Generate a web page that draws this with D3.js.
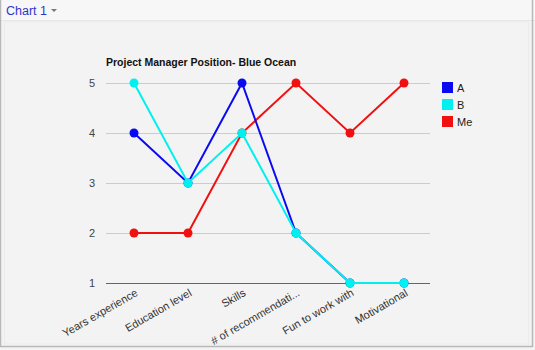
<!DOCTYPE html>
<html><head><meta charset="utf-8">
<script src="https://cdn.jsdelivr.net/npm/d3@7"></script>
<style>
html,body{margin:0;padding:0;background:#f2f2f2;}
svg{display:block;font-family:"Liberation Sans",Arial,sans-serif;}
</style></head>
<body>
<svg id="c" width="535" height="350"></svg>
<script>
const categories = ["Years experience","Education level","Skills","# of recommendati...","Fun to work with","Motivational"];
const seriesA = [4,3,5,2,1,1];
const seriesB = [5,3,4,2,1,1];
const seriesMe = [2,2,4,5,4,5];
const yTicks = [1,2,3,4,5];
const seriesNames = ["A","B","Me"];
const seriesColors = ["#0a0af0","#00f0f0","#f01010"];

const svg = d3.select("#c");
// frame
svg.append("rect").attr("x",0).attr("y",0).attr("width",535).attr("height",350).attr("fill","#f3f3f3");
svg.append("rect").attr("x",0).attr("y",0).attr("width",535).attr("height",20).attr("fill","#f7f7f7");
svg.append("line").attr("x1",0).attr("x2",535).attr("y1",20.5).attr("y2",20.5).attr("stroke","#e6e6e6");
svg.append("rect").attr("x",0.5).attr("y",-1).attr("width",532).attr("height",347.5).attr("fill","none").attr("stroke","#b8b8b8").attr("stroke-width",1.5);
svg.append("rect").attr("x",4.5).attr("y",22).attr("width",524).attr("height",322).attr("fill","none").attr("stroke","#ebebeb");
const chartLbl = svg.append("text").attr("x",6).attr("y",15).attr("font-size",12.5).attr("fill","#3333cc").text("Chart 1");
const lblEnd = 6 + chartLbl.node().getComputedTextLength();
svg.append("path").attr("d",`M${lblEnd+4},9 L${lblEnd+10},9 L${lblEnd+7},12 Z`).attr("fill","#777");

const x = d3.scalePoint().domain(categories).range([134,404]);
const y = d3.scaleLinear().domain([1,5]).range([283,83]);

// grid
svg.append("g").selectAll("line").data(yTicks.filter(t=>t!==1)).join("line")
  .attr("x1",106).attr("x2",430).attr("y1",d=>y(d)+0.5).attr("y2",d=>y(d)+0.5)
  .attr("stroke","#cccccc");
svg.append("line").attr("x1",106).attr("x2",430).attr("y1",y(1)+0.5).attr("y2",y(1)+0.5).attr("stroke","#666").attr("stroke-width",1);

// y axis labels
const yAxis = d3.axisLeft(y).tickValues(yTicks).tickSize(0).tickPadding(0).tickFormat(d3.format("d"));
const gy = svg.append("g").attr("transform","translate(95,0)").call(yAxis);
gy.select(".domain").remove();
gy.selectAll("text").attr("font-size",11).attr("fill","#444").attr("font-family","Liberation Sans, Arial, sans-serif");

// x axis labels
const xAxis = d3.axisBottom(x).tickSize(0).tickPadding(0);
const gx = svg.append("g").attr("transform","translate(0,"+(y(1))+")").call(xAxis);
gx.select(".domain").remove();
gx.selectAll("text").attr("font-size",11).attr("fill","#333")
  .attr("font-family","Liberation Sans, Arial, sans-serif")
  .attr("text-anchor","end").attr("dy",0).attr("y",0)
  .attr("transform","translate(4,12) rotate(-30)");

// title
svg.append("text").attr("x",106).attr("y",66).attr("font-size",10.5).attr("font-weight","bold").attr("fill","#111").text("Project Manager Position- Blue Ocean");

const allSeries = [seriesA, seriesB, seriesMe];
const line = d3.line().x((d,i)=>x(categories[i])).y(d=>y(d));
// draw order: Me, A, B on top
[2,0,1].forEach(si=>{
  const g = svg.append("g");
  g.append("path").datum(allSeries[si]).attr("d",line).attr("fill","none")
    .attr("stroke",seriesColors[si]).attr("stroke-width",2);
  g.selectAll("circle").data(allSeries[si]).join("circle")
    .attr("cx",(d,i)=>x(categories[i])).attr("cy",d=>y(d)).attr("r",4.5)
    .attr("fill",seriesColors[si]);
});

// legend
const lg = svg.append("g").attr("transform","translate(442,82)");
seriesNames.forEach((n,i)=>{
  lg.append("rect").attr("x",0).attr("y",i*17).attr("width",11).attr("height",11).attr("fill",seriesColors[i]);
  lg.append("text").attr("x",15).attr("y",i*17+10).attr("font-size",11).attr("fill","#222").text(n);
});
</script>
</body></html>
